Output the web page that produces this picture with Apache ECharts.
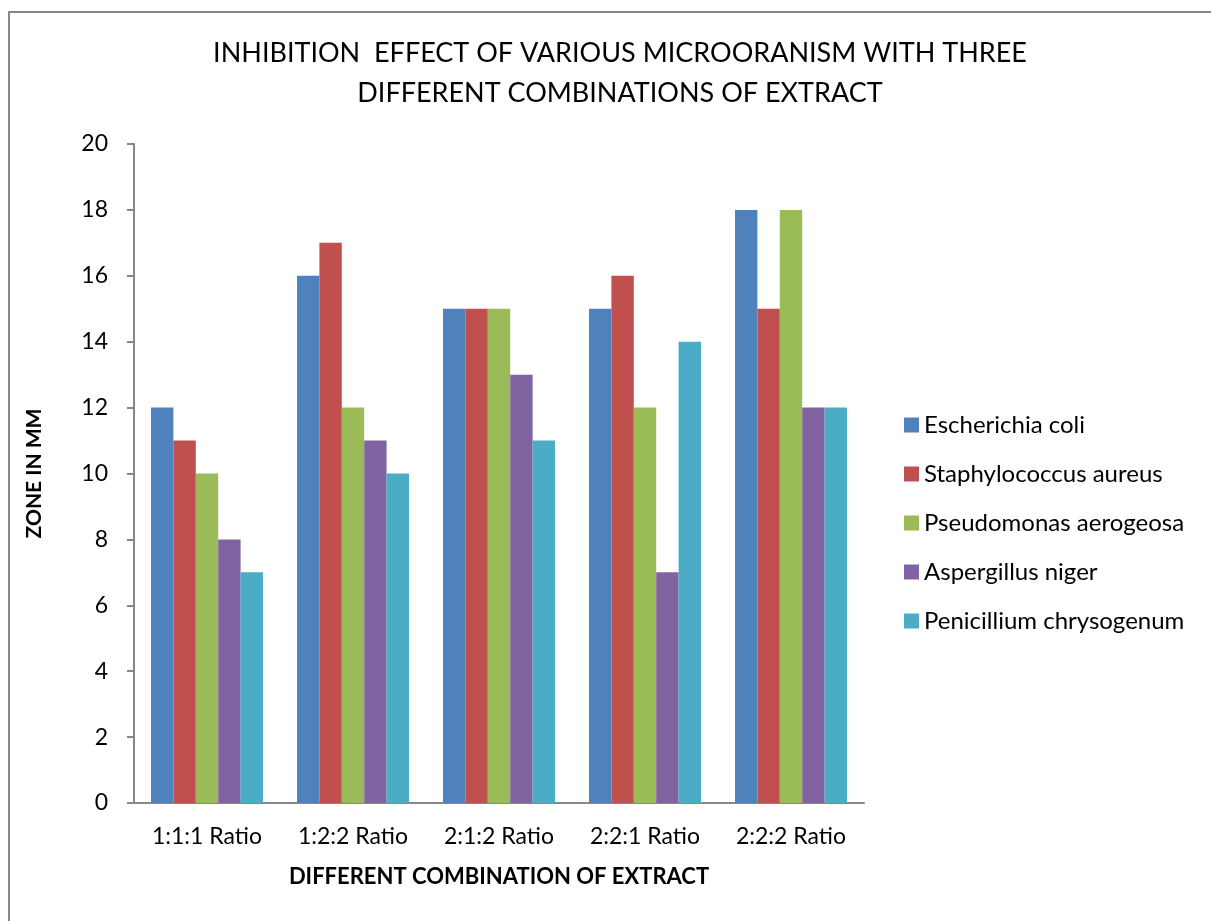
<!DOCTYPE html>
<html>
<head>
<meta charset="utf-8">
<script src="https://cdn.jsdelivr.net/npm/echarts@6/dist/echarts.min.js"></script>
<style>
html,body{margin:0;padding:0;background:#fff;}
#frame{position:absolute;left:8px;top:11px;width:1220px;height:930px;border-left:2px solid #888;border-top:2px solid #888;box-sizing:border-box;}
#chart{position:absolute;left:0;top:0;width:1211px;height:921px;}
</style>
</head>
<body>
<div id="frame"></div>
<div id="chart"></div>
<script>
const categories = ['1:1:1 Ratio', '1:2:2 Ratio', '2:1:2 Ratio', '2:2:1 Ratio', '2:2:2 Ratio'];
const seriesNames = ['Escherichia coli', 'Staphylococcus aureus', 'Pseudomonas aerogeosa', 'Aspergillus niger', 'Penicillium chrysogenum'];
const escherichiaColi = [12, 16, 15, 15, 18];
const staphylococcusAureus = [11, 17, 15, 16, 15];
const pseudomonasAerogeosa = [10, 12, 15, 12, 18];
const aspergillusNiger = [8, 11, 13, 7, 12];
const penicilliumChrysogenum = [7, 10, 11, 14, 12];
const colors = ['#4F81BD', '#C0504D', '#9BBB59', '#8064A2', '#4BACC6'];

const values = [escherichiaColi, staphylococcusAureus, pseudomonasAerogeosa, aspergillusNiger, penicilliumChrysogenum];
const font = 'Lato, "Open Sans", sans-serif';

const chart = echarts.init(document.getElementById('chart'), null, {renderer: 'canvas'});
chart.setOption({
  backgroundColor: 'transparent',
  animation: false,
  color: colors,
  title: {
    text: 'INHIBITION  EFFECT OF VARIOUS MICROORANISM WITH THREE\nDIFFERENT COMBINATIONS OF EXTRACT',
    left: 615, top: 28, textAlign: 'center',
    textStyle: {fontFamily: font, fontSize: 27, fontWeight: 'normal', color: '#000', lineHeight: 40}
  },
  legend: {
    orient: 'vertical',
    left: 899, top: 408,
    itemWidth: 15, itemHeight: 15, itemGap: 25,
    icon: 'rect',
    textStyle: {fontFamily: font, fontSize: 24, color: '#000', padding: [0,0,0,0]},
    data: seriesNames
  },
  grid: {left: 134, right: 347, top: 144, bottom: 118, containLabel: false},
  xAxis: {
    type: 'category',
    data: categories,
    name: 'DIFFERENT COMBINATION OF EXTRACT',
    nameLocation: 'middle', nameGap: 63,
    nameTextStyle: {fontFamily: font, fontSize: 22, fontWeight: 'bold', color: '#000'},
    axisLine: {lineStyle: {color: '#888', width: 2}},
    axisTick: {show: false},
    axisLabel: {fontFamily: font, fontSize: 23, color: '#000', margin: 22}
  },
  yAxis: {
    type: 'value', min: 0, max: 20, interval: 2,
    name: 'ZONE IN MM',
    nameLocation: 'middle', nameGap: 89, nameRotate: 90,
    nameTextStyle: {fontFamily: font, fontSize: 21, fontWeight: 'bold', color: '#000'},
    axisLine: {show: true, lineStyle: {color: '#888', width: 2}},
    axisTick: {show: true, inside: false, length: 7, lineStyle: {color: '#888', width: 2}},
    splitLine: {show: false},
    axisLabel: {fontFamily: font, fontSize: 23, color: '#000', margin: 26}
  },
  series: seriesNames.map((n, i) => ({
    name: n, type: 'bar', data: values[i],
    barGap: '0%', barCategoryGap: '23.3%',
    itemStyle: {color: colors[i]}
  }))
});
</script>
</body>
</html>
